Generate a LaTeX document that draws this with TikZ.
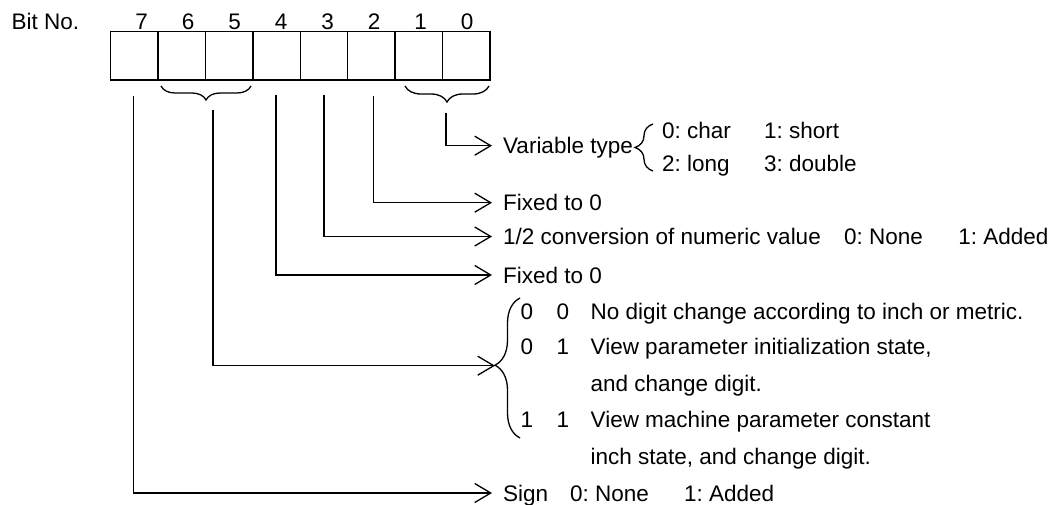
\documentclass[tikz,border=0pt]{standalone}
\usepackage{fontspec}
\setmainfont{Liberation Sans}
\usetikzlibrary{positioning,arrows.meta,decorations.pathreplacing}
\frenchspacing

\begin{document}
\begin{tikzpicture}[x=1pt, y=-1pt, line width=1.3pt,
  every node/.style={font=\fontsize{22.5}{27}\selectfont, inner sep=0pt},
  cell/.style={draw, minimum width=47.4pt, minimum height=48.3pt, outer sep=0pt},
  desc/.style={anchor=west, text height=16pt, text depth=0pt},
  arr/.style={-{Straight Barb[length=16pt, width=19pt]}},
  brc/.style={decorate, decoration={brace, amplitude=#1}},
  brcm/.style={decorate, decoration={brace, mirror, amplitude=#1}}]
\useasboundingbox (0,0) rectangle (1057,505);
\node[desc] (bitno) at (11,21.5) {Bit No.};
\foreach \b in {0,...,7}{
  \node[cell] (c\b) at ({134.4+47.4*(7-\b)},55.85) {};
  \node[text height=16pt, text depth=0pt] (n\b) at ({141.7+46.5*(7-\b)},21.5) {\b};
}
\draw[brcm=14pt] (161,86) -- (251,86);
\draw[brcm=16pt] (405,86) -- (489,86);
\node[desc] (vt) at (502.5,145.7) {Variable type};
\draw[brc=18pt] (653,171) -- (653,124);
\node[desc] (vt01) at (661.5,131) {\makebox[102pt][l]{0: char}1: short};
\node[desc] (vt23) at (661.5,164) {\makebox[102pt][l]{2: long}3: double};
\node[desc] (f2) at (502.5,202.7) {Fixed to 0};
\node[desc] (conv) at (502.5,236.5) {\makebox[341pt][l]{1/2 conversion of numeric value}\makebox[114.3pt][l]{0: None}1: Added};
\node[desc] (f4) at (502.5,275) {Fixed to 0};
\draw[brc=25pt, decoration={aspect=0.52}] (520,438) -- (520,298);
\node[desc] (r00) at (520,311.7) {\makebox[36pt][l]{0}\makebox[34pt][l]{0}No digit change according to inch or metric.};
\node[desc] (r01) at (520,346.7) {\makebox[36pt][l]{0}\makebox[34pt][l]{1}View parameter initialization state,};
\node[desc] (r01b) at (590,383.3) {and change digit.};
\node[desc] (r11) at (520,419.3) {\makebox[36pt][l]{1}\makebox[34pt][l]{1}View machine parameter constant};
\node[desc] (r11b) at (590,456) {inch state, and change digit.};
\node[desc] (sgn) at (502.5,493) {\makebox[67pt][l]{Sign}\makebox[114pt][l]{0: None}1: Added};
\coordinate (v10) at (446,113);
\coordinate (v65) at (213,110);
\coordinate (t65) at (495,365.7);
\draw[arr] (v10) |- ([xshift=-10.5pt]vt.west);
\draw[arr] ([xshift=2pt,yshift=-16pt]c2.south) |- ([xshift=-10.5pt]f2.west);
\draw[arr] ([yshift=-15pt]c3.south) |- ([xshift=-10.5pt]conv.west);
\draw[arr] ([xshift=-0.6pt,yshift=-15pt]c4.south) |- ([xshift=-10.5pt]f4.west);
\draw[arr] (v65) |- (t65);
\draw[arr] ([xshift=-1pt,yshift=-16pt]c7.south) |- ([xshift=-10.5pt]sgn.west);
\end{tikzpicture}
\end{document}
